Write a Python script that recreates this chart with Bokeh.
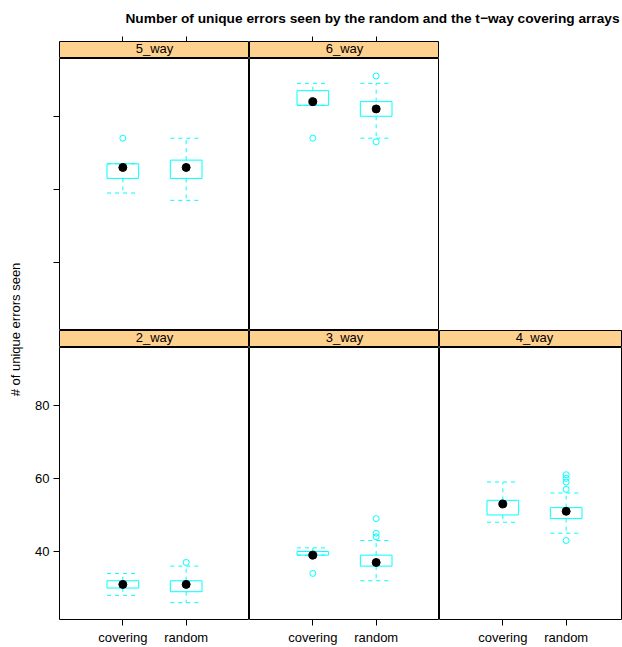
import math
from bokeh.plotting import figure
from bokeh.models import Range1d, LinearAxis, FixedTicker, ColumnDataSource
from bokeh.layouts import row, column
from bokeh.embed import file_html
from bokeh.resources import INLINE
from bokeh.core.properties import value

# ---------------- data ----------------
title_text = "Number of unique errors seen by the random and the t\u2212way covering arrays"
y_label = "# of unique errors seen"
panel_names = ["2_way", "3_way", "4_way", "5_way", "6_way"]
methods = ["covering", "random"]
y_ticks = [40, 60, 80]

group_panel = ["2_way", "2_way", "3_way", "3_way", "4_way", "4_way", "5_way", "5_way", "6_way", "6_way"]
group_method = ["covering", "random", "covering", "random", "covering", "random", "covering", "random", "covering", "random"]
whisker_low = [28, 26, 39, 32, 48, 45, 59, 57, 83, 74]
box_q1 = [30, 29, 39, 36, 50, 49, 63, 63, 83, 80]
box_median = [31, 31, 39, 37, 53, 51, 66, 66, 84, 82]
box_q3 = [32, 32, 40, 39, 54, 52, 67, 68, 87, 84]
whisker_high = [34, 36, 41, 43, 59, 56, 67, 74, 89, 89]

outlier_panel = ["2_way", "3_way", "3_way", "3_way", "3_way", "4_way", "4_way", "4_way", "4_way", "4_way",
                 "5_way", "6_way", "6_way", "6_way"]
outlier_method = ["random", "covering", "random", "random", "random", "random", "random", "random", "random", "random",
                  "covering", "covering", "random", "random"]
outlier_value = [37, 34, 44, 45, 49, 43, 57, 59, 60, 61, 74, 74, 73, 91]

# ---------------- styling / layout ----------------
CYAN = "#00FFFF"
STRIP = "#FFD18F"
FONT = "Liberation Sans"
Y_LO, Y_HI = 21.4, 95.8
X_LO, X_HI = 0.0, len(methods) + 1.0
BOX_HALF = 0.25
PANEL_W = 190
LEFT_W = 29
YLAB_W = 30
TOTAL_W = 622
TITLE_H = 36
TOPTICK_H = 5
STRIP_H = 17
PANEL_H = 272
BOTTOM_H = 28

method_pos = {m: i + 1 for i, m in enumerate(methods)}


def base_fig(width, height, x_range, y_range, **kw):
    p = figure(width=width, height=height, x_range=x_range, y_range=y_range,
               x_axis_type=None, y_axis_type=None, output_backend="svg",
               toolbar_location=None, min_border=0, **kw)
    p.background_fill_color = "white"
    p.border_fill_color = "white"
    return p


def style_axis(ax):
    ax.major_tick_out = 6
    ax.major_tick_in = 0
    ax.minor_tick_out = 0
    ax.minor_tick_in = 0
    ax.axis_line_color = None
    ax.major_tick_line_color = "black"
    ax.major_label_text_font = FONT
    ax.major_label_text_font_size = "13px"
    ax.major_label_text_color = "black"
    ax.major_label_standoff = 4


def strip_fig(name, x_range, width, left, top_ticks):
    h = STRIP_H + (TOPTICK_H if top_ticks else 0)
    p = base_fig(width, h, x_range, Range1d(0, 1), min_border_left=left,
                 min_border_top=TOPTICK_H if top_ticks else 0)
    p.background_fill_color = STRIP
    p.outline_line_color = "black"
    p.outline_line_width = 1
    p.text(x=[(X_LO + X_HI) / 2], y=[0.57], text=[name], text_align="center",
           text_baseline="middle", text_font=value(FONT), text_font_size="13px",
           text_color="black")
    if top_ticks:
        # tick marks only (lattice alternating axes: no labels on top)
        ax = LinearAxis(ticker=FixedTicker(ticks=list(method_pos.values())))
        style_axis(ax)
        ax.major_tick_out = 5
        ax.major_label_text_font_size = "0px"
        ax.major_label_text_color = None
        ax.major_label_standoff = 0
        p.add_layout(ax, "above")
    return p


def panel_fig(name, x_range, width, left, bottom_axis, left_axis, left_labels):
    h = PANEL_H + (BOTTOM_H if bottom_axis else 0)
    p = base_fig(width, h, x_range, Range1d(Y_LO, Y_HI), min_border_left=left,
                 min_border_bottom=BOTTOM_H if bottom_axis else 0)
    p.outline_line_color = "black"
    p.outline_line_width = 1

    idx = [i for i, g in enumerate(group_panel) if g == name]
    xs = [method_pos[group_method[i]] for i in idx]
    src = ColumnDataSource(dict(
        x=xs,
        left=[x - BOX_HALF for x in xs],
        right=[x + BOX_HALF for x in xs],
        lo=[whisker_low[i] for i in idx],
        q1=[box_q1[i] for i in idx],
        med=[box_median[i] for i in idx],
        q3=[box_q3[i] for i in idx],
        hi=[whisker_high[i] for i in idx],
    ))
    # whiskers (dashed)
    p.segment(x0="x", y0="q3", x1="x", y1="hi", source=src, line_color=CYAN, line_dash="4 4", line_width=1)
    p.segment(x0="x", y0="q1", x1="x", y1="lo", source=src, line_color=CYAN, line_dash="4 4", line_width=1)
    p.segment(x0="left", y0="hi", x1="right", y1="hi", source=src, line_color=CYAN, line_dash="4 4", line_width=1)
    p.segment(x0="left", y0="lo", x1="right", y1="lo", source=src, line_color=CYAN, line_dash="4 4", line_width=1)
    # box
    p.quad(left="left", right="right", bottom="q1", top="q3", source=src,
           fill_color=None, line_color=CYAN, line_width=1)
    # outliers
    oidx = [i for i, g in enumerate(outlier_panel) if g == name]
    if oidx:
        osrc = ColumnDataSource(dict(
            x=[method_pos[outlier_method[i]] for i in oidx],
            y=[outlier_value[i] for i in oidx],
        ))
        p.scatter(x="x", y="y", source=osrc, marker="circle", size=6,
                  fill_color=None, line_color=CYAN, line_width=1)
    # median dot
    p.scatter(x="x", y="med", source=src, marker="circle", size=8,
              fill_color="black", line_color="black")

    if bottom_axis:
        ax = LinearAxis(ticker=FixedTicker(ticks=list(method_pos.values())),
                        major_label_overrides={v: k for k, v in method_pos.items()})
        style_axis(ax)
        p.add_layout(ax, "below")
    if left_axis:
        ay = LinearAxis(ticker=FixedTicker(ticks=y_ticks))
        style_axis(ay)
        if not left_labels:
            ay.major_label_text_color = None
        p.add_layout(ay, "left")
    return p


# ---------------- title ----------------
tfig = base_fig(TOTAL_W, TITLE_H, Range1d(0, 1), Range1d(0, 1), min_border_left=122)
tfig.outline_line_color = None
tfig.text(x=[0.5], y=[0.5], text=[title_text], text_align="center", text_baseline="middle",
          text_font=value(FONT), text_font_style="bold", text_font_size="13.7px", text_color="black")

# ---------------- y label ----------------
grid_h = TOPTICK_H + STRIP_H + PANEL_H + STRIP_H + PANEL_H + BOTTOM_H
yfig = base_fig(YLAB_W, grid_h, Range1d(0, 1), Range1d(0, 1), min_border_bottom=25)
yfig.outline_line_color = None
yfig.text(x=[0.5], y=[0.5], text=[y_label], angle=math.pi / 2, text_align="center",
          text_baseline="middle", text_font=value(FONT), text_font_size="13px", text_color="black")

# ---------------- panels ----------------
col_frame_w = [PANEL_W, PANEL_W, TOTAL_W - YLAB_W - LEFT_W - 2 * PANEL_W]
x_ranges = [Range1d(X_LO, X_LO + (X_HI - X_LO) * w / PANEL_W) for w in col_frame_w]
col_left = [LEFT_W, 0, 0]

top_layout = ["5_way", "6_way"]
bottom_layout = ["2_way", "3_way", "4_way"]

top_strips, top_panels = [], []
for c, name in enumerate(top_layout):
    w = col_frame_w[c] + col_left[c]
    top_strips.append(strip_fig(name, x_ranges[c], w, col_left[c], True))
    top_panels.append(panel_fig(name, x_ranges[c], w, col_left[c], False, c == 0, False))

bot_strips, bot_panels = [], []
for c, name in enumerate(bottom_layout):
    w = col_frame_w[c] + col_left[c]
    bot_strips.append(strip_fig(name, x_ranges[c], w, col_left[c], False))
    bot_panels.append(panel_fig(name, x_ranges[c], w, col_left[c], True, c == 0, True))

grid = column(row(*top_strips), row(*top_panels), row(*bot_strips), row(*bot_panels))
layout = column(tfig, row(yfig, grid))

open("out.html", "w").write(file_html(layout, INLINE))
